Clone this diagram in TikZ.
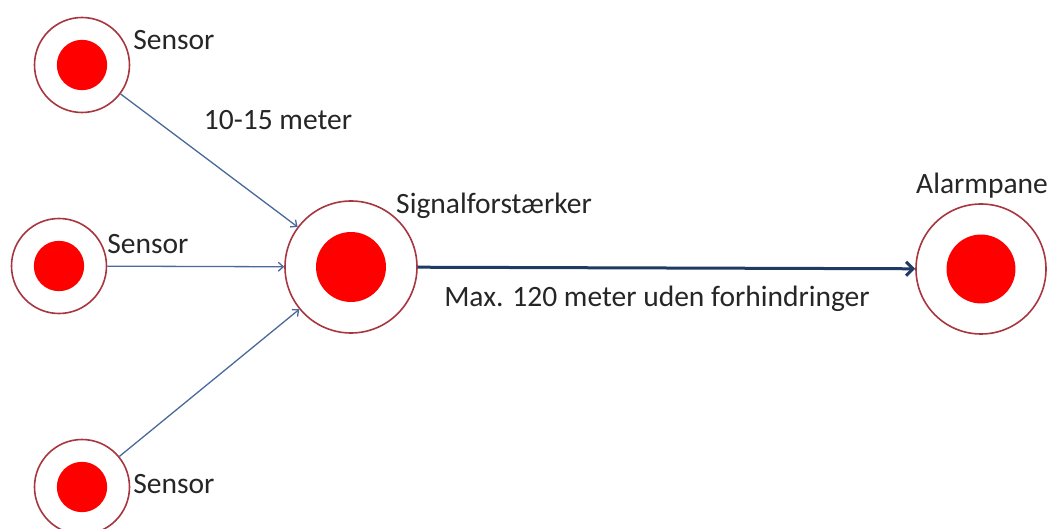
\documentclass[tikz,border=0pt]{standalone}
\usepackage{fontspec}
\setmainfont{Carlito}
\usetikzlibrary{arrows.meta}
\definecolor{ringred}{HTML}{A8363F}
\definecolor{dotred}{HTML}{FF0000}
\definecolor{linkblue}{HTML}{4A6A9C}
\definecolor{mainblue}{HTML}{1F3A63}
\tikzset{
	unit/.style={circle, draw=ringred, line width=1.6pt, fill=white, inner sep=0pt, minimum size=#1,
		path picture={\fill[dotred] (path picture bounding box.center) circle (0.265*#1);}},
	lbl/.style={font=\fontsize{29.5}{33}\selectfont, text=black!85, inner sep=0pt},
	link/.style={draw=linkblue, line width=1.3pt, ->},
	mainlink/.style={draw=mainblue, line width=3pt, ->}
}
\begin{document}
\begin{tikzpicture}[>={Straight Barb[length=5pt,width=9pt]}, x=1pt, y=-1pt]
		\useasboundingbox[fill=white] (0,0) rectangle (1047,529);
		\node [unit=95pt] (sensorA) at (82,65) {};
		\node [unit=95pt] (sensorB) at (59,266) {};
		\node [unit=95pt] (sensorC) at (82,487) {};
		\node [unit=132pt] (booster) at (351,267) {};
		\node [unit=130pt] (panel) at (981,269) {};
		\node [lbl] (sensorAlbl) at (174,40) {Sensor};
		\node [lbl] (sensorBlbl) at (148,244) {Sensor};
		\node [lbl] (sensorClbl) at (174,484) {Sensor};
		\node [lbl] (distlbl) at (278,120) {10-15 meter};
		\node [lbl] (boosterlbl) at (494,206) {Signalforstærker};
		\node [lbl, anchor=west] (panellbl) at (916,186) {Alarmpanel};
		\node [lbl] (rangelbl) at (657,299) {Max. 120 meter uden forhindringer};
		\draw [link] (sensorA) -- (booster);
		\draw [link] (sensorB) -- (booster);
		\draw [link] (sensorC) -- (booster);
		\draw [mainlink, >={Straight Barb[length=7pt,width=14pt]}] (booster) -- (panel);
	\end{tikzpicture}
\end{document}
